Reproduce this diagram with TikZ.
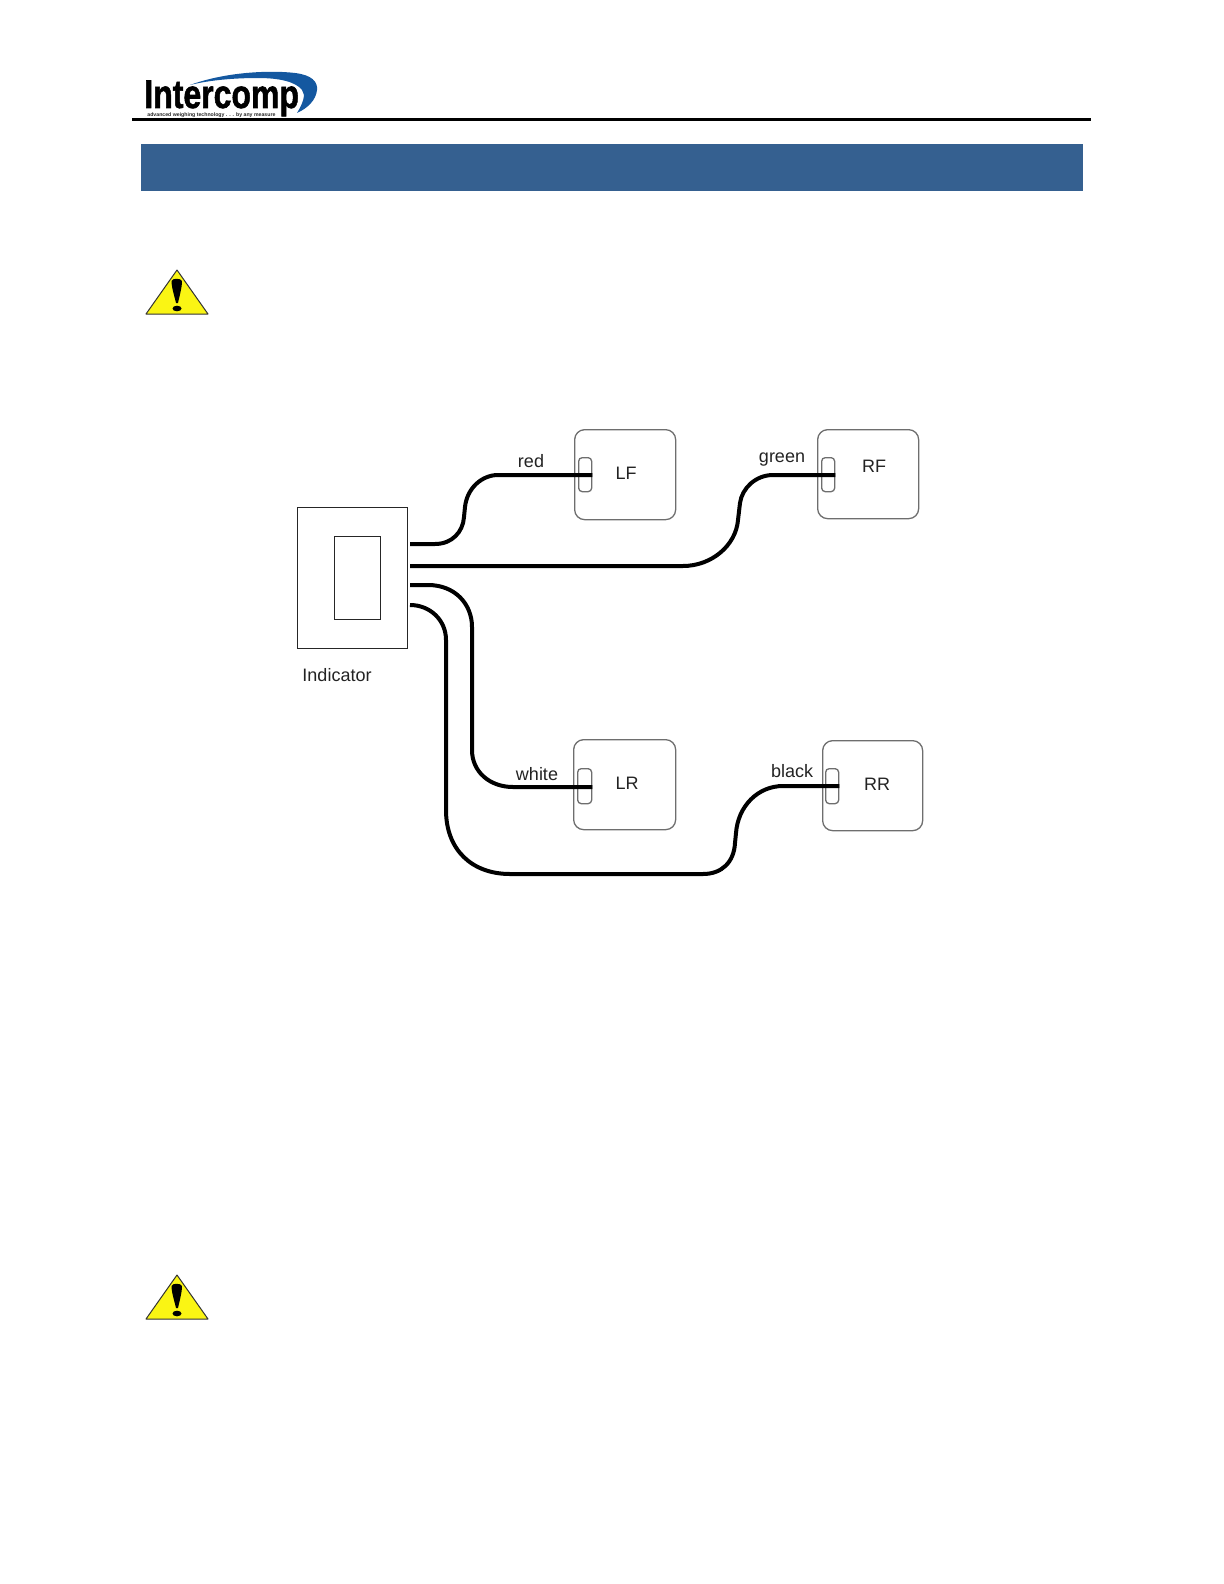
\documentclass[tikz,border=0pt]{standalone}
\usepackage{fontspec}
\setmainfont{Liberation Sans}
\newfontfamily\logofont[FakeBold=1.5]{Liberation Sans Bold}
\definecolor{barblue}{RGB}{53,96,144}
\definecolor{swoosh}{RGB}{20,88,160}
\definecolor{warn}{RGB}{250,245,20}
\definecolor{boxgrey}{RGB}{110,110,110}
\definecolor{lab}{RGB}{35,35,35}
\tikzset{
  wire/.style={line width=2pt,black,line join=round},
  sensor/.style={draw=boxgrey,line width=.65pt,rounded corners=5pt,fill=white},
  slot/.style={draw=boxgrey,line width=.65pt,rounded corners=1.8pt},
  lab/.style={font=\fontsize{9}{9}\selectfont,text=lab,inner sep=0pt},
  plainbox/.style={draw=black!85,line width=.7pt,fill=white},
  warntri/.style={draw=black!80,line width=.5pt,fill=warn,line join=round},
}
\begin{document}
\begin{tikzpicture}[x=0.5pt,y=-0.5pt]
\useasboundingbox (0,0) rectangle (1224,1584);
% logo
\fill[swoosh] (190,85) .. controls (225,72) and (270,70) .. (295,73) .. controls (312,75) and (318,82) .. (317,90) .. controls (316,100) and (308,108) .. (297,113) .. controls (303,103) and (306,95) .. (302,90) .. controls (296,82) and (280,78) .. (258,78) .. controls (235,78) and (210,80) .. (190,85) -- cycle;
\node[inner sep=0pt,anchor=base west,font=\logofont\fontsize{20}{20}\selectfont,xscale=.8] (logotext) at (144,108) {Intercomp};
\node[inner sep=0pt,anchor=base west,font=\fontsize{2.6}{2.6}\bfseries\selectfont,text=black!85] (logotag) at (147,116.5) {advanced weighing technology . . . by any measure};
% rule and banner
\coordinate (ruleL) at (132,119.5); \coordinate (ruleR) at (1091,119.5);
\draw[line width=1.4pt] (ruleL) -- (ruleR);
\node[fill=barblue,minimum width=471pt,minimum height=23.5pt,inner sep=0pt,anchor=north west] (banner) at (141,144) {};
% warnings
\draw[warntri] (177,270) -- (208,314) -- (146,314) -- cycle;
\fill[black] (171.5,281) .. controls (172,278) and (181,278) .. (182,281) .. controls (182,288) and (179,298) .. (178,303) -- (176,303) .. controls (175,298) and (171.5,288) .. (171.5,281) -- cycle;
\fill[black] (177,308.5) ellipse [x radius=4.5,y radius=2.8];
\draw[warntri] (177,1275) -- (208,1319) -- (146,1319) -- cycle;
\fill[black] (171.5,1286) .. controls (172,1283) and (181,1283) .. (182,1286) .. controls (182,1293) and (179,1303) .. (178,1308) -- (176,1308) .. controls (175,1303) and (171.5,1293) .. (171.5,1286) -- cycle;
\fill[black] (177,1313.5) ellipse [x radius=4.5,y radius=2.8];
% indicator
\node[plainbox,minimum width=55pt,minimum height=70.5pt,inner sep=0pt,anchor=north west] (indicator) at (297,507) {};
\node[plainbox,minimum width=23pt,minimum height=41.5pt,inner sep=0pt,anchor=north west] (display) at (334,536) {};
\node[lab] (indlabel) at (337,675) {Indicator};
% sensors
\node[sensor,minimum width=50.5pt,minimum height=45pt,inner sep=0pt,anchor=north west] (LF) at (574,429) {};
\node[sensor,minimum width=50.5pt,minimum height=44.5pt,inner sep=0pt,anchor=north west] (RF) at (817,429) {};
\node[sensor,minimum width=51pt,minimum height=45pt,inner sep=0pt,anchor=north west] (LR) at (573,739) {};
\node[sensor,minimum width=50pt,minimum height=45pt,inner sep=0pt,anchor=north west] (RR) at (822,740) {};
\node[slot,minimum width=6.5pt,minimum height=17pt,inner sep=0pt,anchor=north west] (LFs) at (578,457) {};
\node[slot,minimum width=6.5pt,minimum height=17pt,inner sep=0pt,anchor=north west] (RFs) at (821,457) {};
\node[slot,minimum width=7pt,minimum height=17.5pt,inner sep=0pt,anchor=north west] (LRs) at (577,768) {};
\node[slot,minimum width=6.5pt,minimum height=17.5pt,inner sep=0pt,anchor=north west] (RRs) at (825,768) {};
\node[lab] (tLF) at (626,473) {LF};
\node[lab] (tRF) at (874,466) {RF};
\node[lab] (tLR) at (627,783) {LR};
\node[lab] (tRR) at (877,784) {RR};
\node[lab] (tred) at (531,461) {red};
\node[lab] (tgreen) at (782,460) {green};
\node[lab] (twhite) at (537,774) {white};
\node[lab] (tblack) at (792,771) {black};
% wires
\coordinate (p1) at (410,544); \coordinate (p2) at (410,566);
\coordinate (p3) at (410,585); \coordinate (p4) at (410,605);
\draw[wire] (p1) -- (435,544) .. controls (452,544) and (463,532) .. (464,517) -- (465,507) .. controls (467,488) and (482,475) .. (498,475) -- (LFs.east |- 0,475);
\draw[wire] (p2) -- (683,566) .. controls (712,566) and (736,545) .. (738,520) -- (740,503) .. controls (742,488) and (756,475) .. (773,475) -- (RFs.east |- 0,475);
\draw[wire] (p3) -- (428,585) .. controls (455,585) and (472,604) .. (472,627) -- (472,750) .. controls (472,772) and (490,787) .. (513,787) -- (LRs.east |- 0,787);
\draw[wire] (p4) .. controls (430,605) and (446,620) .. (446,640) -- (446,810) .. controls (446,850) and (472,874) .. (510,874) -- (703,874) .. controls (722,874) and (734,862) .. (735,843) -- (736,833) .. controls (738,806) and (758,786) .. (783,786) -- (RRs.east |- 0,786);
\end{tikzpicture}
\end{document}
